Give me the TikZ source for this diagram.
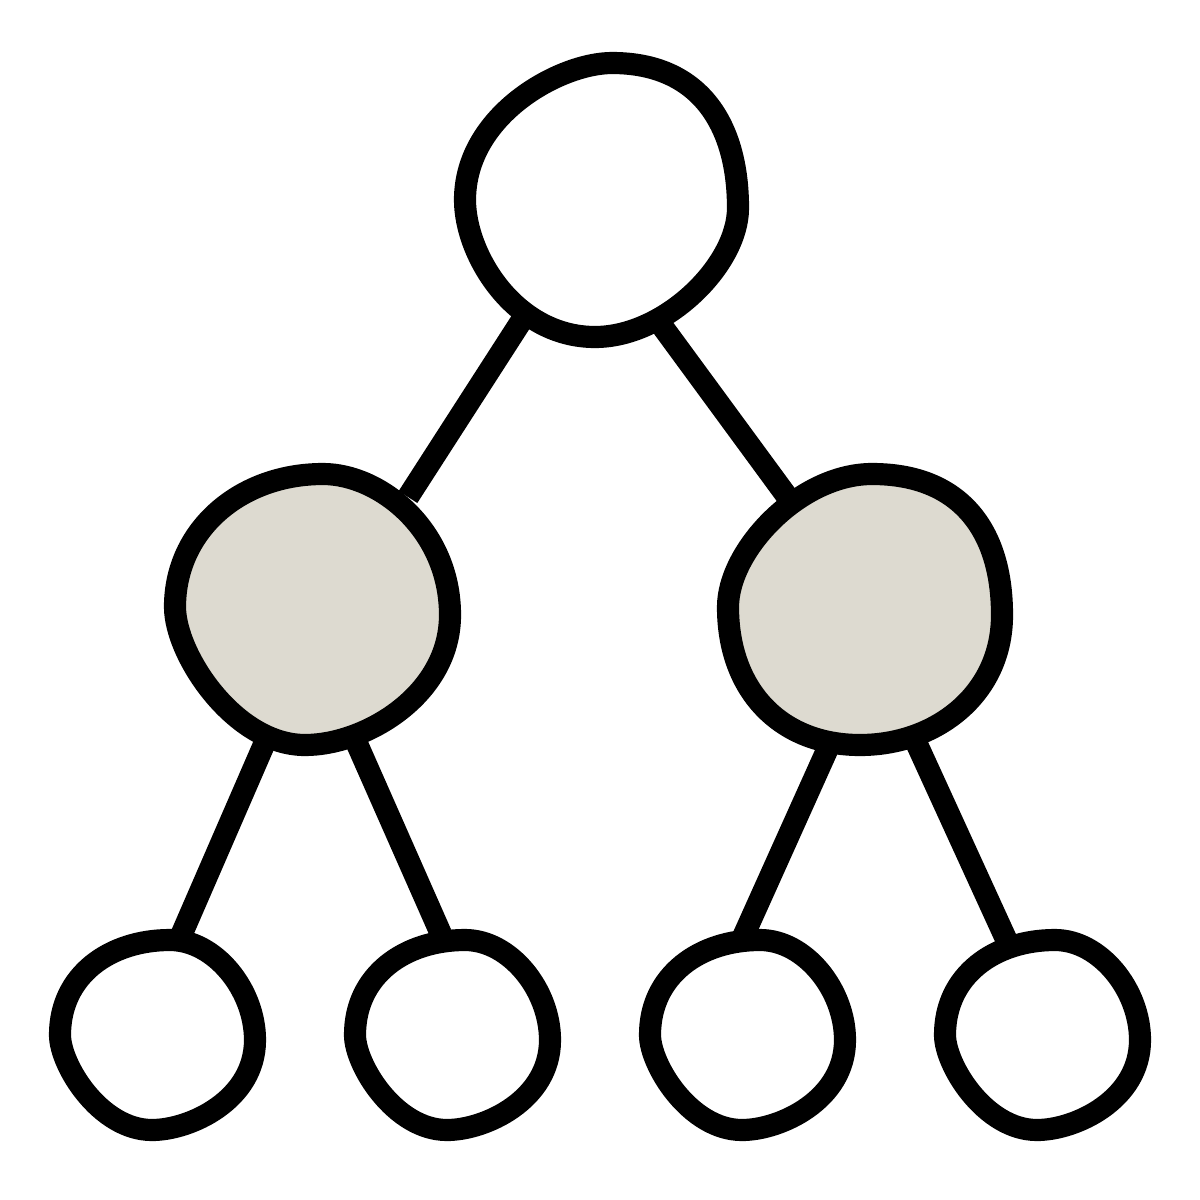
\documentclass[tikz,border=0pt]{standalone}
\definecolor{midfill}{HTML}{DDDAD0}
\tikzset{
  blob/.style={draw=black, line width=6.3pt, line join=round, fill=white},
  midblob/.style={blob, fill=midfill},
  edge/.style={draw=black, line width=6.3pt}
}
\begin{document}
\begin{tikzpicture}[x=0.01cm,y=-0.01cm]
\useasboundingbox (0,0) rectangle (1200,1200);
% connector end points
\coordinate (t1) at (522,320); \coordinate (l1) at (408,497);
\coordinate (t2) at (662,326); \coordinate (r1) at (786,495);
\coordinate (l2) at (266,740); \coordinate (a1) at (180,938);
\coordinate (l3) at (354,737); \coordinate (b1) at (441,934);
\coordinate (r2) at (828,748); \coordinate (c1) at (743,937);
\coordinate (r3) at (915,740); \coordinate (d1) at (1006,939);
\draw[edge] (t1) -- (l1);
\draw[edge] (t2) -- (r1);
\draw[edge] (l2) -- (a1);
\draw[edge] (l3) -- (b1);
\draw[edge] (r2) -- (c1);
\draw[edge] (r3) -- (d1);
% top
\path[blob] (612,63) .. controls (700,63) and (738,125) .. (738,208)
  .. controls (738,265) and (665,337) .. (595,337)
  .. controls (515,337) and (465,255) .. (465,200)
  .. controls (465,115) and (560,63) .. (612,63) -- cycle;
% middle left
\path[midblob] (175,607) .. controls (175,530) and (240,474) .. (323,474)
  .. controls (380,474) and (450,530) .. (450,615)
  .. controls (450,695) and (365,745) .. (305,745)
  .. controls (235,745) and (175,655) .. (175,607) -- cycle;
% middle right
\path[midblob] (728,607) .. controls (728,550) and (800,474) .. (872,474)
  .. controls (960,474) and (1002,530) .. (1002,615)
  .. controls (1002,695) and (935,745) .. (860,745)
  .. controls (780,745) and (728,690) .. (728,607) -- cycle;
% leaves
\foreach \dx in {0,295,590,885}{
\path[blob] (60+\dx,1035) .. controls (60+\dx,975) and (110+\dx,940) .. (170+\dx,940)
  .. controls (215+\dx,940) and (255+\dx,990) .. (255+\dx,1040)
  .. controls (255+\dx,1100) and (190+\dx,1130) .. (152+\dx,1130)
  .. controls (100+\dx,1130) and (60+\dx,1065) .. (60+\dx,1035) -- cycle;
}
\end{tikzpicture}
\end{document}
